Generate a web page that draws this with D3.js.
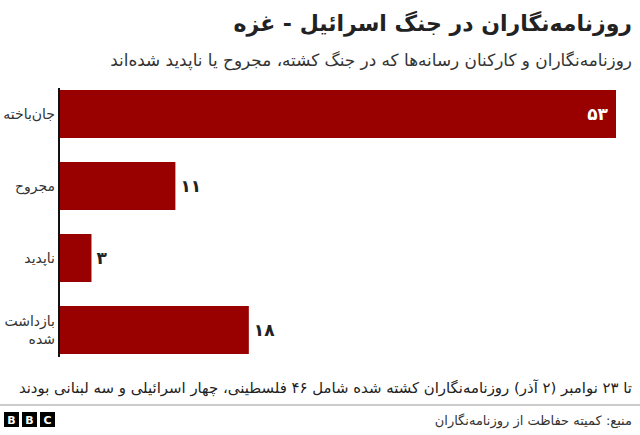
<!DOCTYPE html>
<html>
<head>
<meta charset="utf-8">
<script src="https://d3js.org/d3.v7.min.js"></script>
<style>
  body { margin: 0; background: #fff; }
  svg text { font-family: "DejaVu Sans", sans-serif; }
  .rtl { direction: rtl; unicode-bidi: embed; }
</style>
</head>
<body>
<svg id="chart" width="640" height="435"></svg>
<script>
const categories = [["جان‌باخته"], ["مجروح"], ["ناپدید"], ["بازداشت", "شده"]];
const values = [53, 11, 3, 18];
const valueLabels = ["۵۳", "۱۱", "۳", "۱۸"];

const svg = d3.select("#chart");

const x = d3.scaleLinear().domain([0, 53]).range([60, 616]);
const y = d3.scaleBand().domain(d3.range(values.length))
  .range([90, 354]).paddingInner(1 / 3).paddingOuter(0);

// shrink/grow a text so it spans a given width
function fitWidth(sel, w) {
  const fs = parseFloat(sel.style("font-size"));
  const len = sel.node().getComputedTextLength();
  sel.style("font-size", (fs * w / len) + "px");
}

// title
svg.append("text").attr("class", "rtl")
  .attr("x", 632).attr("y", 31)
  .attr("text-anchor", "start")
  .style("font-size", "22px").style("font-weight", "bold").attr("fill", "#222")
  .text("روزنامه‌نگاران در جنگ اسرائیل - غزه");

const sub = svg.append("text").attr("class", "rtl")
  .attr("x", 632).attr("y", 66)
  .attr("text-anchor", "start")
  .style("font-size", "16px").attr("fill", "#333")
  .text("روزنامه‌نگاران و کارکنان رسانه‌ها که در جنگ کشته، مجروح یا ناپدید شده‌اند");
fitWidth(sub, 522);

// bars
svg.selectAll("rect.bar").data(values).enter()
  .append("rect").attr("class", "bar")
  .attr("x", x(0))
  .attr("y", (d, i) => y(i))
  .attr("width", d => x(d) - x(0))
  .attr("height", y.bandwidth())
  .attr("fill", "#990000");

// axis line
svg.append("line")
  .attr("x1", x(0) - 1).attr("x2", x(0) - 1)
  .attr("y1", 88).attr("y2", 357)
  .attr("stroke", "#111").attr("stroke-width", 2);

// value labels
svg.selectAll("text.val").data(values).enter()
  .append("text").attr("class", "val")
  .attr("x", (d, i) => i === 0 ? x(d) - 8 : x(d) + 5)
  .attr("y", (d, i) => y(i) + y.bandwidth() / 2 + 6)
  .attr("text-anchor", (d, i) => i === 0 ? "end" : "start")
  .style("font-size", "17px").style("font-weight", "bold")
  .attr("fill", (d, i) => i === 0 ? "#fff" : "#222")
  .text((d, i) => valueLabels[i]);

// category labels
const cat = svg.selectAll("text.cat").data(categories).enter()
  .append("text").attr("class", "cat rtl")
  .attr("x", 55)
  .attr("y", (d, i) => y(i) + y.bandwidth() / 2 + 5 - (d.length - 1) * 9)
  .attr("text-anchor", "start")
  .style("font-size", "14px").attr("fill", "#333");
cat.selectAll("tspan").data(d => d).enter()
  .append("tspan").attr("x", 55)
  .attr("dy", (d, i) => i === 0 ? 0 : 18)
  .text(d => d);

// footnote
const note = svg.append("text").attr("class", "rtl")
  .attr("x", 632).attr("y", 393)
  .attr("text-anchor", "start")
  .style("font-size", "15px").attr("fill", "#222")
  .text("تا ۲۳ نوامبر (۲ آذر) روزنامه‌نگاران کشته شده شامل ۴۶ فلسطینی، چهار اسرائیلی و سه لبنانی بودند");
fitWidth(note, 614);

svg.append("line")
  .attr("x1", 0).attr("x2", 640).attr("y1", 405).attr("y2", 405)
  .attr("stroke", "#999").attr("stroke-width", 1);

svg.append("text").attr("class", "rtl")
  .attr("x", 632).attr("y", 425)
  .attr("text-anchor", "start")
  .style("font-size", "13px").attr("fill", "#333")
  .text("منبع: کمیته حفاظت از روزنامه‌نگاران");

// BBC logo
const logo = svg.append("g").attr("transform", "translate(4,412)");
["B", "B", "C"].forEach((l, i) => {
  logo.append("rect").attr("x", i * 18).attr("y", 0).attr("width", 15).attr("height", 15).attr("fill", "#000");
  logo.append("text").attr("x", i * 18 + 7.5).attr("y", 12)
    .attr("text-anchor", "middle").style("font-size", "11px").style("font-weight", "bold")
    .attr("fill", "#fff").text(l);
});
</script>
</body>
</html>
